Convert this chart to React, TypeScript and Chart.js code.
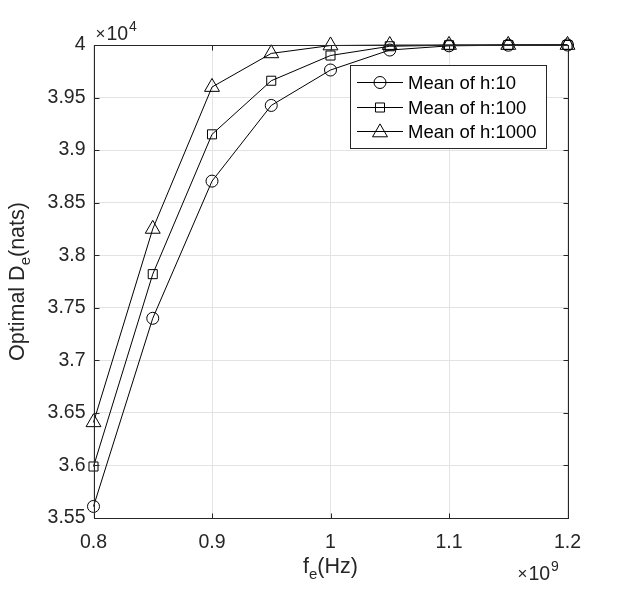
import React, { useEffect, useRef } from 'react';
import { Chart, registerables } from 'chart.js';

Chart.register(...registerables);

// Carrier frequency f_e (Hz)
const frequencyHz = [0.8e9, 0.85e9, 0.9e9, 0.95e9, 1.0e9, 1.05e9, 1.1e9, 1.15e9, 1.2e9];

// Optimal D_e (nats) for each mean channel gain
const meanH10 = [35610, 37400, 38705, 39425, 39762, 39952, 39992, 39998, 40000];
const meanH100 = [35990, 37820, 39150, 39660, 39900, 39988, 39998, 40000, 40000];
const meanH1000 = [36410, 38250, 39600, 39920, 39995, 39999, 40000, 40000, 40000];

const seriesLabels = ['Mean of h:10', 'Mean of h:100', 'Mean of h:1000'];
const seriesMarkers = ['circle', 'rect', 'triangle'];
const markerRadius = [6, 6.4, 8.6];

const xMin = 0.8e9;
const xMax = 1.2e9;
const xStep = 0.1e9;
const yMin = 35500;
const yMax = 40000;
const yStep = 500;

const FONT = '"Liberation Sans", Arial, Helvetica, sans-serif';
const INK = '#262626';
const GRID = '#e3e3e3';

function drawMarker(ctx: CanvasRenderingContext2D, style: string, x: number, y: number, r: number) {
  ctx.beginPath();
  if (style === 'circle') {
    ctx.arc(x, y, r, 0, Math.PI * 2);
  } else if (style === 'rect') {
    const s = r * Math.SQRT1_2;
    ctx.rect(x - s, y - s, 2 * s, 2 * s);
  } else {
    const w = Math.sin(Math.PI * 2 / 3) * r;
    ctx.moveTo(x, y - r);
    ctx.lineTo(x + w, y + r / 2);
    ctx.lineTo(x - w, y + r / 2);
    ctx.closePath();
  }
  ctx.stroke();
}

// Draws the boxed axes, inward ticks, axis titles with subscripts,
// exponent multipliers and the inset legend.
const boxedAxesPlugin = {
  id: 'boxedAxes',
  afterDraw(chart: any) {
    const { ctx, chartArea, scales } = chart;
    const { left, right, top, bottom } = chartArea;
    const L = Math.round(left) + 0.5;
    const R = Math.round(right) + 0.5;
    const T = Math.round(top) + 0.5;
    const B = Math.round(bottom) + 0.5;
    ctx.save();

    // axes box
    ctx.strokeStyle = INK;
    ctx.lineWidth = 1;
    ctx.strokeRect(L, T, R - L, B - T);

    // inward tick marks
    const tl = 5;
    ctx.beginPath();
    scales.x.ticks.forEach((t: any) => {
      const px = Math.round(scales.x.getPixelForValue(t.value)) + 0.5;
      ctx.moveTo(px, B);
      ctx.lineTo(px, B - tl);
      ctx.moveTo(px, T);
      ctx.lineTo(px, T + tl);
    });
    scales.y.ticks.forEach((t: any) => {
      const py = Math.round(scales.y.getPixelForValue(t.value)) + 0.5;
      ctx.moveTo(L, py);
      ctx.lineTo(L + tl, py);
      ctx.moveTo(R, py);
      ctx.lineTo(R - tl, py);
    });
    ctx.stroke();

    ctx.fillStyle = INK;
    ctx.textBaseline = 'alphabetic';

    // x-axis title: f_e(Hz)
    const titleSize = 21.5;
    const subSize = 15;
    ctx.font = `${titleSize}px ${FONT}`;
    const wf = ctx.measureText('f').width;
    const wHz = ctx.measureText('(Hz)').width;
    ctx.font = `${subSize}px ${FONT}`;
    const we = ctx.measureText('e').width;
    const xTitleW = wf + we + wHz;
    const cx = (left + right) / 2;
    const xBase = 573;
    let x0 = cx - xTitleW / 2;
    ctx.font = `${titleSize}px ${FONT}`;
    ctx.textAlign = 'left';
    ctx.fillText('f', x0, xBase);
    ctx.font = `${subSize}px ${FONT}`;
    ctx.fillText('e', x0 + wf, xBase + 6);
    ctx.font = `${titleSize}px ${FONT}`;
    ctx.fillText('(Hz)', x0 + wf + we, xBase);

    // y-axis title: Optimal D_e(nats)
    ctx.font = `${titleSize}px ${FONT}`;
    const wOpt = ctx.measureText('Optimal D').width;
    const wNats = ctx.measureText('(nats)').width;
    ctx.font = `${subSize}px ${FONT}`;
    const we2 = ctx.measureText('e').width;
    const yTitleW = wOpt + we2 + wNats;
    const cy = (top + bottom) / 2;
    ctx.save();
    ctx.translate(24, cy);
    ctx.rotate(-Math.PI / 2);
    let y0 = -yTitleW / 2;
    ctx.font = `${titleSize}px ${FONT}`;
    ctx.fillText('Optimal D', y0, 0);
    ctx.font = `${subSize}px ${FONT}`;
    ctx.fillText('e', y0 + wOpt, 6);
    ctx.font = `${titleSize}px ${FONT}`;
    ctx.fillText('(nats)', y0 + wOpt + we2, 0);
    ctx.restore();

    // exponent multipliers
    const drawExp = (xs: number, base: number, exp: string) => {
      ctx.font = `${17}px ${FONT}`;
      ctx.fillText('\u00d7', xs, base - 1);
      const wx = ctx.measureText('\u00d7').width;
      ctx.font = `${19.5}px ${FONT}`;
      ctx.fillText('10', xs + wx + 1, base);
      const w10 = ctx.measureText('10').width;
      ctx.font = `${14}px ${FONT}`;
      ctx.fillText(exp, xs + wx + 1 + w10 + 1, base - 9);
    };
    drawExp(left + 2, 40, '4');
    drawExp(right - 50, 580, '9');

    // inset legend
    const lx = 350.5, ly = 65.5, lw = 196, lh = 83;
    ctx.fillStyle = '#ffffff';
    ctx.fillRect(lx, ly, lw, lh);
    ctx.strokeStyle = INK;
    ctx.strokeRect(lx, ly, lw, lh);
    const rowY = [82.5, 107.5, 131.5];
    ctx.font = `${18.5}px ${FONT}`;
    ctx.textBaseline = 'middle';
    seriesLabels.forEach((label, i) => {
      const y = rowY[i];
      ctx.strokeStyle = '#000000';
      ctx.beginPath();
      ctx.moveTo(357, y);
      ctx.lineTo(403, y);
      ctx.stroke();
      ctx.fillStyle = '#ffffff';
      drawMarker(ctx, seriesMarkers[i], 380, y + (seriesMarkers[i] === 'triangle' ? 1 : 0), markerRadius[i]);
      ctx.fillStyle = '#000000';
      ctx.fillText(label, 408, y + 1);
    });

    ctx.restore();
  },
};

export default function App() {
  const canvasRef = useRef<HTMLCanvasElement | null>(null);

  useEffect(() => {
    const canvas = canvasRef.current;
    if (!canvas) return;
    const seriesValues = [meanH10, meanH100, meanH1000];
    const chart = new Chart(canvas, {
      type: 'line',
      data: {
        datasets: seriesValues.map((vals, i) => ({
          label: seriesLabels[i],
          data: vals.map((v, j) => ({ x: frequencyHz[j], y: v })),
          borderColor: '#000000',
          borderWidth: 1,
          backgroundColor: 'rgba(0,0,0,0)',
          pointStyle: seriesMarkers[i] as any,
          pointRadius: markerRadius[i],
          pointBorderColor: '#000000',
          pointBackgroundColor: 'rgba(0,0,0,0)',
          pointBorderWidth: 1,
          tension: 0,
          fill: false,
        })),
      },
      options: {
        responsive: false,
        animation: false,
        clip: false as any,
        layout: { padding: { left: 0, right: 70.5, top: 45, bottom: 0 } },
        plugins: {
          legend: { display: false },
          tooltip: { enabled: false },
          title: { display: false },
        },
        scales: {
          x: {
            type: 'linear',
            min: xMin,
            max: xMax,
            grid: { color: GRID, drawTicks: false, lineWidth: 1 },
            border: { display: false },
            ticks: {
              stepSize: xStep,
              padding: 13,
              color: INK,
              font: { family: FONT, size: 19.5 },
              maxRotation: 0,
              callback: (v: any) => parseFloat((Number(v) / 1e9).toFixed(2)).toString(),
            },
            afterFit: (scale: any) => { scale.height = 82; },
          },
          y: {
            type: 'linear',
            min: yMin,
            max: yMax,
            grid: { color: GRID, drawTicks: false, lineWidth: 1 },
            border: { display: false },
            ticks: {
              stepSize: yStep,
              padding: 8,
              color: INK,
              font: { family: FONT, size: 19.5 },
              callback: (v: any) => parseFloat((Number(v) / 1e4).toFixed(3)).toString(),
            },
            afterFit: (scale: any) => { scale.width = 93.5; },
          },
        },
      },
      plugins: [boxedAxesPlugin],
    });
    return () => chart.destroy();
  }, []);

  return (
    <div style={{ position: 'absolute', left: 0, top: 0, width: 638, height: 600, background: '#ffffff' }}>
      <canvas ref={canvasRef} width={638} height={600} />
    </div>
  );
}
